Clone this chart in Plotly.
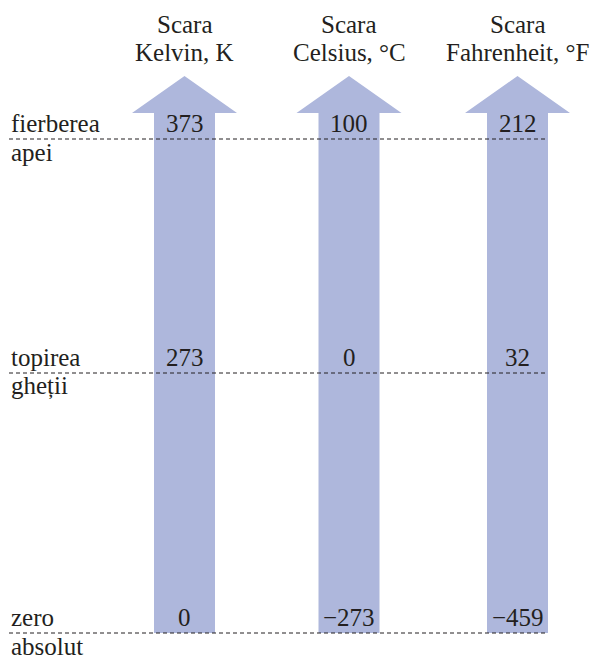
import plotly.graph_objects as go

# ---- data ----
scale_titles_top = ["Scara", "Scara", "Scara"]
scale_titles_bottom = ["Kelvin, K", "Celsius, °C", "Fahrenheit, °F"]
points_above = ["fierberea", "topirea", "zero"]
points_below = ["apei", "gheții", "absolut"]
kelvin = [373, 273, 0]
celsius = [100, 0, -273]
fahrenheit = [212, 32, -459]

# ---- layout (pixel-like coordinates, y measured from the top) ----
W, H = 595, 659
col_x = [184.5, 349, 517.5]
level_y = [139, 373, 633]
shaft_half = 30.5
head_half = 52.5
tip_y = 76
head_base_y = 113
line_x0 = 9
FONT = "Liberation Serif"
FS = 25
TXT = "#231f20"
FILL = "#aeb7dc"

fig = go.Figure()

# arrows
for cx in col_x:
    xs = [cx - shaft_half, cx - shaft_half, cx - head_half, cx, cx + head_half,
          cx + shaft_half, cx + shaft_half, cx - shaft_half]
    ys = [level_y[-1], head_base_y, head_base_y, tip_y, head_base_y,
          head_base_y, level_y[-1], level_y[-1]]
    fig.add_trace(go.Scatter(x=xs, y=ys, mode="lines", fill="toself",
                             fillcolor=FILL, line=dict(width=0, color=FILL),
                             hoverinfo="skip", showlegend=False))

# dashed reference lines
for ly in level_y:
    fig.add_trace(go.Scatter(x=[line_x0, col_x[-1] + shaft_half], y=[ly, ly],
                             mode="lines", line=dict(color=TXT, width=1, dash="4px,3px"),
                             hoverinfo="skip", showlegend=False))

def txt(x, y, s, xanchor="center"):
    fig.add_annotation(x=x, y=y, text=s, showarrow=False, xanchor=xanchor,
                       yanchor="middle", font=dict(family=FONT, size=FS, color=TXT))

# column titles
for cx, t1, t2 in zip(col_x, scale_titles_top, scale_titles_bottom):
    txt(cx, 24, t1)
    txt(cx, 52, t2)

# values
def fmt(v):
    return ("\u2212" + str(-v)) if v < 0 else str(v)

for series, cx in zip([kelvin, celsius, fahrenheit], col_x):
    for v, ly in zip(series, level_y):
        txt(cx, ly - 16, fmt(v))

# left labels
for a, b, ly in zip(points_above, points_below, level_y):
    txt(line_x0, ly - 16, a, xanchor="left")
    txt(line_x0, ly + 13, b, xanchor="left")

fig.update_layout(
    width=W, height=H, margin=dict(l=0, r=0, t=0, b=0),
    paper_bgcolor="white", plot_bgcolor="white",
    xaxis=dict(range=[0, W], visible=False, fixedrange=True),
    yaxis=dict(range=[H, 0], visible=False, fixedrange=True),
    showlegend=False,
)
fig.write_html("out.html", config={"displayModeBar": False},
               post_script="document.body.style.margin='0';document.body.style.overflow='hidden';")
